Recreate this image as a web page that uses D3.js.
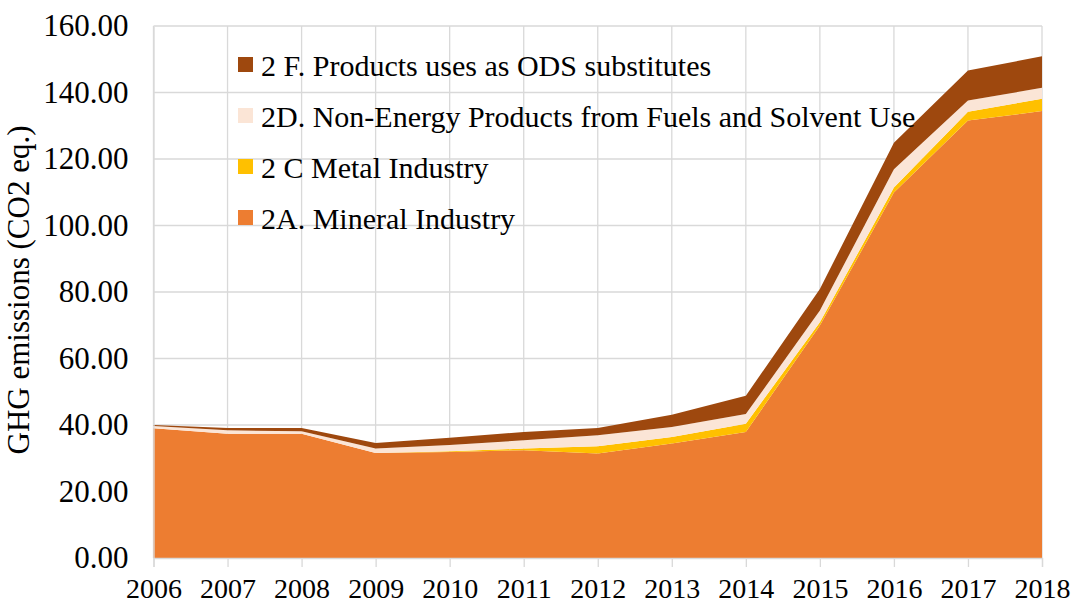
<!DOCTYPE html>
<html><head><meta charset="utf-8">
<script src="https://cdn.jsdelivr.net/npm/d3@7/dist/d3.min.js"></script>
<style>body{margin:0;background:#fff;} text{font-family:"Liberation Serif","Times New Roman",serif;fill:#000;}</style>
</head><body><svg id="c" width="1073" height="606"></svg>
<script>
const years = [2006,2007,2008,2009,2010,2011,2012,2013,2014,2015,2016,2017,2018];
const mineral = [39.0,37.4,37.4,31.6,31.9,32.4,31.4,34.4,37.9,69.9,109.9,131.6,134.4];
const metal   = [0.0,0.0,0.0,0.0,0.2,0.5,2.2,2.0,2.5,1.0,1.5,2.6,3.7];
const nonEnergy = [0.7,1.0,0.7,1.3,1.9,2.5,3.3,3.0,2.9,3.5,5.5,3.4,3.3];
const ods     = [0.3,0.7,1.0,1.7,2.2,2.5,2.2,3.7,5.5,6.5,8.0,9.0,9.5];
const seriesNames = ["2A. Mineral Industry","2 C Metal Industry","2D. Non-Energy Products from Fuels and Solvent Use","2 F. Products uses as ODS substitutes"];
const colors = ["#ED7D31","#FFC000","#FBE5D6","#9E480E"];
const yTicks = [0,20,40,60,80,100,120,140,160];

const rows = years.map((y,i)=>({year:y, s0:mineral[i], s1:metal[i], s2:nonEnergy[i], s3:ods[i]}));
const keys = ["s0","s1","s2","s3"];
const svg = d3.select("#c");
const x = d3.scaleLinear().domain([2006,2018]).range([153.5,1042]);
const y = d3.scaleLinear().domain([0,160]).range([558,26]);

// gridlines
svg.append("g").selectAll("line").data(yTicks).join("line")
  .attr("x1",x.range()[0]).attr("x2",x.range()[1])
  .attr("y1",d=>y(d)).attr("y2",d=>y(d)).attr("stroke","#d9d9d9").attr("stroke-width",1.3);
svg.append("g").selectAll("line").data(years).join("line")
  .attr("x1",d=>x(d)).attr("x2",d=>x(d))
  .attr("y1",y(0)).attr("y2",y(160)).attr("stroke","#d9d9d9").attr("stroke-width",1.3);

const stack = d3.stack().keys(keys);
const layers = stack(rows);
const area = d3.area().x(d=>x(d.data.year)).y0(d=>y(d[0])).y1(d=>y(d[1]));
svg.append("g").selectAll("path").data(layers).join("path")
  .attr("d",area).attr("fill",(d,i)=>colors[i]);

// axes
const xAxis = d3.axisBottom(x).tickValues(years).tickFormat(d3.format("d")).tickSize(9).tickPadding(11);
const gx = svg.append("g").attr("transform",`translate(0,${y(0)})`).call(xAxis);
gx.select(".domain").attr("stroke","#d9d9d9").attr("stroke-width",1.3);
gx.selectAll(".tick line").attr("stroke","#d9d9d9").attr("stroke-width",1.3);
gx.selectAll("text").style("font-size","28px").attr("fill","#000");

const yAxis = d3.axisLeft(y).tickValues(yTicks).tickFormat(d3.format(".2f")).tickSize(0).tickPadding(25);
const gy = svg.append("g").attr("transform",`translate(${x.range()[0]},0)`).call(yAxis);
gy.select(".domain").attr("stroke","#d9d9d9").attr("stroke-width",1.3);
gy.selectAll("text").style("font-size","31px").attr("fill","#000");

svg.append("text").attr("transform","translate(29,290) rotate(-90)")
  .attr("text-anchor","middle").style("font-size","31px").text("GHG emissions (CO2 eq.)");

// legend (reverse order)
const legendOrder = [3,2,1,0];
const lg = svg.append("g");
legendOrder.forEach((si,k)=>{
  const cy = 65 + k*51;
  lg.append("rect").attr("x",238).attr("y",cy-8).attr("width",15).attr("height",15).attr("fill",colors[si]);
  lg.append("text").attr("x",261).attr("y",cy).attr("dy","0.35em").style("font-size","30px").text(seriesNames[si]);
});
</script></body></html>
